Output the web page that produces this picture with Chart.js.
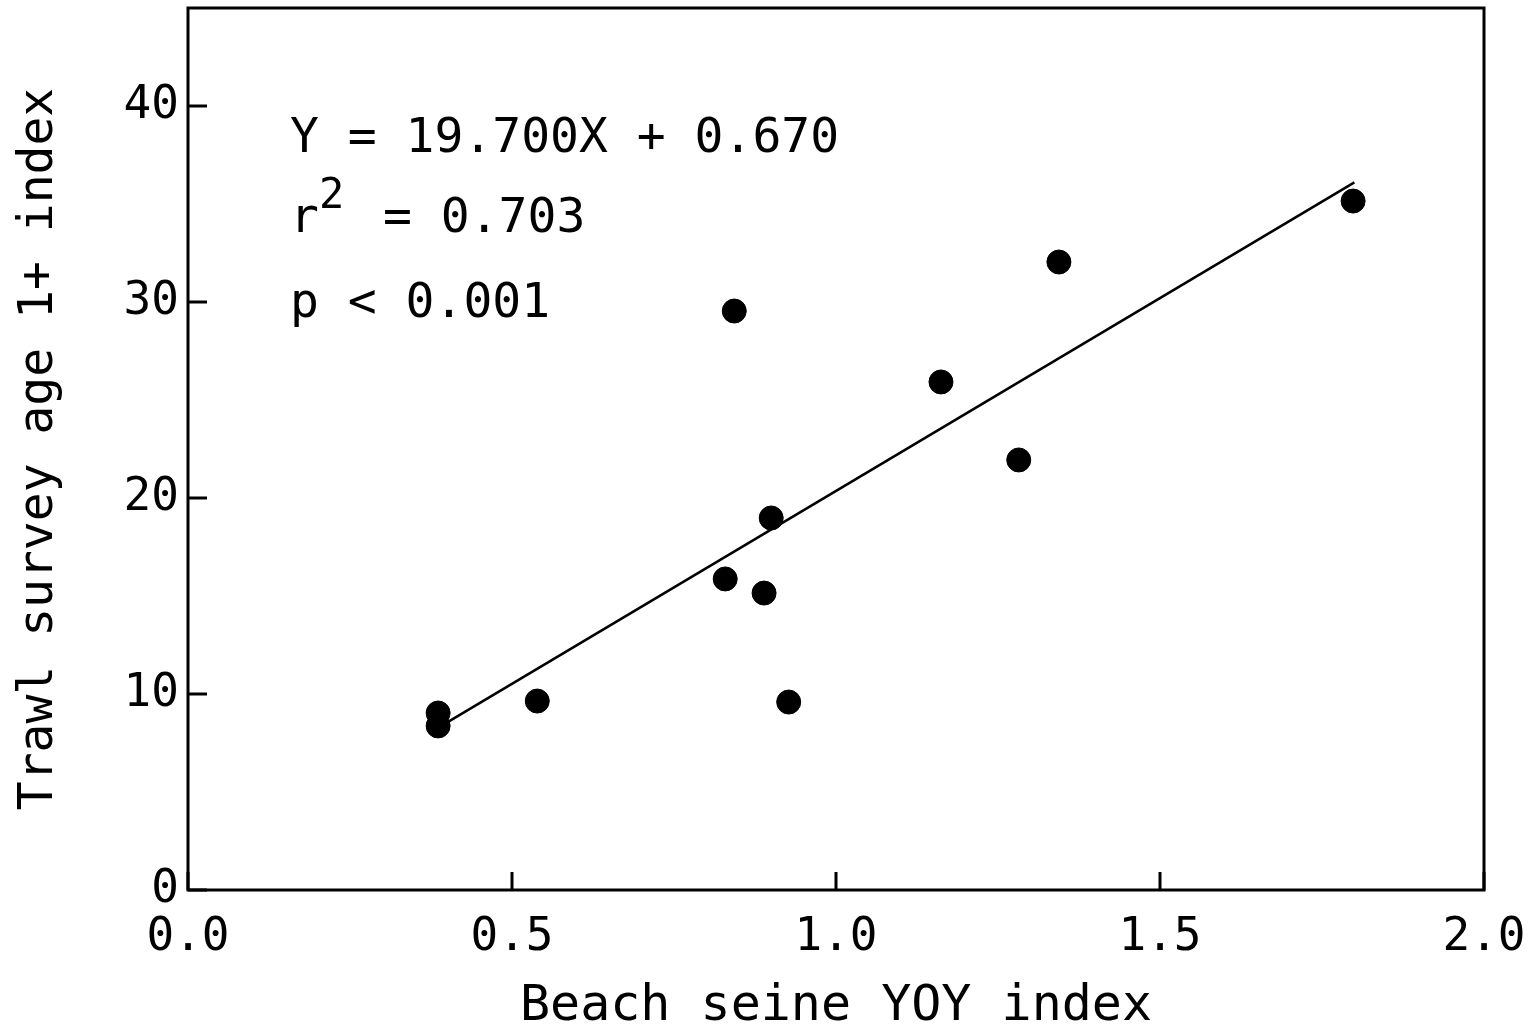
<!DOCTYPE html>
<html>
<head>
<meta charset="utf-8">
<script src="https://cdn.jsdelivr.net/npm/chart.js@4.4.1/dist/chart.umd.min.js"></script>
<style>
  html, body { margin: 0; padding: 0; background: #fff; }
  #wrap { width: 1529px; height: 1030px; }
</style>
</head>
<body>
<div id="wrap"><canvas id="graph"></canvas></div>
<script>
// beach seine YOY index vs trawl survey age 1+ index
const yoyIndex = [0.386, 0.386, 0.539, 0.829, 0.843, 0.889, 0.900, 0.927, 1.162, 1.282, 1.344, 1.798];
const trawlIndex = [9.03, 8.37, 9.64, 15.87, 29.54, 15.15, 18.98, 9.59, 25.92, 21.94, 32.04, 35.15];

// fitted line end points
const fitX = [0.4, 1.8];
const fitY = [8.55, 36.1];

const xTicks = [0, 0.5, 1.0, 1.5, 2.0];
const yTicks = [0, 10, 20, 30, 40];

const statLines = ["Y = 19.700X + 0.670", "= 0.703", "p < 0.001"];

const FONT = "'DejaVu Sans Mono', monospace";

const frame = {
  id: "frame",
  afterDraw(chart) {
    const ctx = chart.ctx;
    const a = chart.chartArea;
    const xs = chart.scales.x;
    const ys = chart.scales.y;
    ctx.save();
    ctx.strokeStyle = "#000";
    ctx.lineWidth = 3;
    ctx.strokeRect(a.left, a.top, a.right - a.left, a.bottom - a.top);
    ctx.beginPath();
    xTicks.forEach(v => {
      const px = xs.getPixelForValue(v);
      ctx.moveTo(px, a.bottom);
      ctx.lineTo(px, a.bottom - 18);
    });
    yTicks.forEach(v => {
      const py = ys.getPixelForValue(v);
      ctx.moveTo(a.left, py);
      ctx.lineTo(a.left + 19, py);
    });
    ctx.stroke();

    // regression stats
    ctx.fillStyle = "#000";
    ctx.textBaseline = "alphabetic";
    ctx.font = "48px " + FONT;
    ctx.fillText(statLines[0], 290, 152);
    ctx.fillText("r", 290, 232);
    ctx.fillText(statLines[1], 383, 232);
    ctx.fillText(statLines[2], 290, 317);
    ctx.font = "42px " + FONT;
    ctx.fillText("2", 319, 208);
    ctx.restore();
  }
};

Chart.defaults.font.family = FONT;
Chart.defaults.color = "#000";

new Chart(document.getElementById("graph").getContext("2d"), {
  type: "scatter",
  data: {
    datasets: [
      {
        label: "Fit",
        type: "line",
        data: fitX.map((x, i) => ({ x: x, y: fitY[i] })),
        borderColor: "#000",
        borderWidth: 2.5,
        pointRadius: 0,
        fill: false,
      },
      {
        label: "Years",
        data: yoyIndex.map((x, i) => ({ x: x, y: trawlIndex[i] })),
        backgroundColor: "#000",
        borderColor: "#000",
        pointRadius: 12,
        pointHoverRadius: 12,
      },
    ],
  },
  options: {
    responsive: true,
    maintainAspectRatio: false,
    animation: false,
    events: [],
    layout: { autoPadding: false, padding: { top: 8, right: 45, left: 0, bottom: 0 } },
    plugins: {
      legend: { display: false },
      tooltip: { enabled: false },
    },
    scales: {
      x: {
        type: "linear",
        min: 0,
        max: 2,
        grid: { display: false, drawTicks: false },
        border: { display: false },
        ticks: {
          stepSize: 0.5,
          padding: 20,
          maxRotation: 0,
          font: { size: 46 },
          color: "#000",
          callback: v => v.toFixed(1),
        },
        title: {
          display: true,
          text: "Beach seine YOY index",
          font: { size: 50 },
          color: "#000",
          padding: { top: 0, bottom: -7 },
        },
        afterFit: s => {
          s.height = 140;
          s.paddingLeft = 0;
          s.paddingRight = 0;
        },
      },
      y: {
        type: "linear",
        min: 0,
        max: 45,
        grid: { display: false, drawTicks: false },
        border: { display: false },
        afterBuildTicks: s => { s.ticks = s.ticks.filter(t => t.value % 10 === 0); },
        ticks: {
          stepSize: 10,
          padding: 9,
          font: { size: 46 },
          color: "#000",
        },
        title: {
          display: true,
          text: "Trawl survey age 1+ index",
          font: { size: 48 },
          color: "#000",
          padding: { top: 11, bottom: 0 },
        },
        afterFit: s => {
          s.width = 188;
          s.paddingTop = 0;
          s.paddingBottom = 0;
        },
      },
    },
  },
  plugins: [frame],
});
</script>
</body>
</html>
